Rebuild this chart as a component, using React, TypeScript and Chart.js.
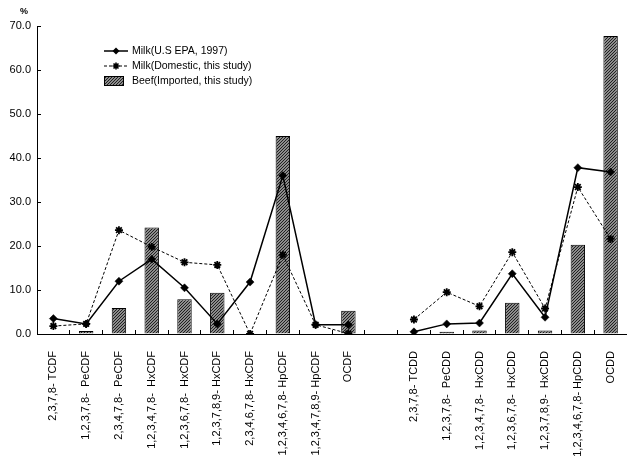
import React, { useEffect, useRef } from 'react';
import { Chart, registerables } from 'chart.js';

Chart.register(...registerables);

const categories: string[] = [
  '2,3,7,8- TCDF',
  '1,2,3,7,8-  PeCDF',
  '2,3,4,7,8-  PeCDF',
  '1,2,3,4,7,8-  HxCDF',
  '1,2,3,6,7,8-  HxCDF',
  '1,2,3,7,8,9- HxCDF',
  '2,3,4,6,7,8- HxCDF',
  '1,2,3,4,6,7,8- HpCDF',
  '1,2,3,4,7,8,9- HpCDF',
  'OCDF',
  '',
  '2,3,7,8- TCDD',
  '1,2,3,7,8-  PeCDD',
  '1,2,3,4,7,8-  HxCDD',
  '1,2,3,6,7,8-  HxCDD',
  '1,2,3,7,8,9-  HxCDD',
  '1,2,3,4,6,7,8- HpCDD',
  'OCDD',
];

const milkEpa: (number | null)[] = [3.5, 2.3, 12.0, 17.0, 10.5, 2.3, 11.8, 36.0, 2.1, 2.1, null, 0.5, 2.3, 2.5, 13.7, 3.8, 37.8, 36.8];
const milkDomestic: (number | null)[] = [1.8, 2.3, 23.6, 19.8, 16.3, 15.7, 0.0, 18.0, 2.1, 0.1, null, 3.3, 9.5, 6.3, 18.6, 5.8, 33.4, 21.6];
const beefImported: (number | null)[] = [0, 0.7, 5.9, 24.2, 7.9, 9.4, 0, 45.0, 0, 5.3, null, 0, 0.5, 0.8, 7.1, 0.8, 20.3, 67.7];

const seriesNames = ['Milk(U.S EPA, 1997)', 'Milk(Domestic, this study)', 'Beef(Imported, this study)'];
const yMin = 0;
const yMax = 70;
const yStep = 10;
const yUnit = '%';

const FONT = "'Liberation Sans', Arial, sans-serif";

function makeHatch(): CanvasPattern | string {
  const c = document.createElement('canvas');
  c.width = 3;
  c.height = 3;
  const p = c.getContext('2d');
  if (!p) return '#666';
  p.fillStyle = '#8c8c8c';
  p.fillRect(0, 0, 3, 3);
  p.fillStyle = '#202020';
  p.fillRect(2, 0, 1, 1);
  p.fillRect(1, 1, 1, 1);
  p.fillRect(0, 2, 1, 1);
  const pat = p.createPattern(c, 'repeat');
  return pat || '#666';
}

function drawStar(ctx: CanvasRenderingContext2D, x: number, y: number, r: number) {
  ctx.beginPath();
  ctx.moveTo(x - r, y);
  ctx.lineTo(x + r, y);
  ctx.moveTo(x, y - r);
  ctx.lineTo(x, y + r);
  const d = r * 0.7071;
  ctx.moveTo(x - d, y - d);
  ctx.lineTo(x + d, y + d);
  ctx.moveTo(x - d, y + d);
  ctx.lineTo(x + d, y - d);
  ctx.stroke();
}

const legendPlugin = {
  id: 'boxLegend',
  afterDraw(chart: any, _args: any, opts: any) {
    const ctx: CanvasRenderingContext2D = chart.ctx;
    const x0 = opts.x;
    const rows: number[] = opts.rows;
    const w = opts.sampleWidth;
    ctx.save();
    ctx.font = `10.5px ${FONT}`;
    ctx.textBaseline = 'middle';
    ctx.textAlign = 'left';
    chart.data.datasets.forEach((ds: any, i: number) => {
      const y = rows[i];
      if (ds.type === 'line') {
        ctx.strokeStyle = '#000';
        ctx.lineWidth = ds.borderWidth;
        ctx.setLineDash(ds.borderDash || []);
        ctx.beginPath();
        ctx.moveTo(x0, y);
        ctx.lineTo(x0 + w, y);
        ctx.stroke();
        ctx.setLineDash([]);
        const cx = x0 + w / 2;
        if (ds.pointStyle === 'star') {
          ctx.lineWidth = 1.6;
          drawStar(ctx, cx, y, 3.5);
        } else {
          ctx.fillStyle = '#000';
          ctx.beginPath();
          ctx.moveTo(cx, y - 3.5);
          ctx.lineTo(cx + 3.5, y);
          ctx.lineTo(cx, y + 3.5);
          ctx.lineTo(cx - 3.5, y);
          ctx.closePath();
          ctx.fill();
        }
      } else {
        ctx.fillStyle = ds.backgroundColor;
        ctx.fillRect(x0, y - 5, w - 4, 10);
        ctx.strokeStyle = '#000';
        ctx.lineWidth = 1;
        ctx.strokeRect(x0 + 0.5, y - 4.5, w - 5, 9);
      }
      ctx.fillStyle = '#000';
      ctx.fillText(ds.label, x0 + w + 4, y + 0.5);
    });
    ctx.restore();
  },
};

const unitPlugin = {
  id: 'unitLabel',
  afterDraw(chart: any, _args: any, opts: any) {
    const ctx: CanvasRenderingContext2D = chart.ctx;
    const area = chart.chartArea;
    ctx.save();
    ctx.font = `bold 9px ${FONT}`;
    ctx.fillStyle = '#000';
    ctx.textAlign = 'center';
    ctx.textBaseline = 'middle';
    ctx.fillText(opts.text, area.left - 13, area.top - 14);
    ctx.restore();
  },
};

export default function App() {
  const canvasRef = useRef<HTMLCanvasElement | null>(null);

  useEffect(() => {
    const canvas = canvasRef.current;
    if (!canvas) return;
    const hatch = makeHatch();
    const chart = new Chart(canvas, {
      type: 'bar',
      data: {
        labels: categories,
        datasets: [
          {
            type: 'line',
            label: seriesNames[0],
            data: milkEpa,
            borderColor: '#000',
            backgroundColor: '#000',
            borderWidth: 1.5,
            pointStyle: 'rectRot',
            pointRadius: 4,
            pointBackgroundColor: '#000',
            pointBorderColor: '#000',
            pointBorderWidth: 0.5,
            tension: 0,
            spanGaps: false,
            order: 0,
          } as any,
          {
            type: 'line',
            label: seriesNames[1],
            data: milkDomestic,
            borderColor: '#000',
            backgroundColor: '#000',
            borderWidth: 1,
            borderDash: [3, 2],
            pointStyle: 'star',
            pointRadius: 4,
            pointBorderColor: '#000',
            pointBorderWidth: 1.8,
            tension: 0,
            spanGaps: false,
            order: 1,
          } as any,
          {
            type: 'bar',
            label: seriesNames[2],
            data: beefImported,
            backgroundColor: hatch,
            borderColor: '#000',
            borderWidth: 1,
            barPercentage: 0.44,
            categoryPercentage: 1,
            order: 2,
          } as any,
        ],
      },
      options: {
        responsive: true,
        maintainAspectRatio: false,
        animation: false,
        layout: { autoPadding: false, padding: { top: 26, right: 0, left: 0, bottom: 0 } },
        plugins: {
          legend: { display: false },
          tooltip: { enabled: false },
          boxLegend: { x: 104, rows: [51, 66, 81], sampleWidth: 24 },
          unitLabel: { text: yUnit },
        } as any,
        scales: {
          x: {
            type: 'category',
            offset: true,
            grid: { display: true, drawOnChartArea: false, drawTicks: true, tickLength: -4, color: '#000', offset: true },
            border: { display: true, color: '#000', width: 1 },
            ticks: {
              autoSkip: false,
              maxRotation: 90,
              minRotation: 90,
              padding: 21,
              color: '#000',
              font: { family: FONT, size: 11 },
            },
            afterFit: (scale: any) => {
              scale.height = 124;
              scale.paddingLeft = 0;
              scale.paddingRight = 0;
            },
          },
          y: {
            min: yMin,
            max: yMax,
            grid: { display: true, drawOnChartArea: false, drawTicks: true, tickLength: -4, color: '#000' },
            border: { display: true, color: '#000', width: 1 },
            ticks: {
              stepSize: yStep,
              padding: 10,
              color: '#000',
              font: { family: FONT, size: 11 },
              callback: (v: any) => Number(v).toFixed(1),
            },
            afterFit: (scale: any) => {
              scale.width = 37;
            },
          },
        },
      },
      plugins: [legendPlugin, unitPlugin],
    });
    return () => chart.destroy();
  }, []);

  return (
    <div style={{ position: 'absolute', left: 0, top: 0, width: 627, height: 458, background: '#fff' }}>
      <canvas ref={canvasRef} />
    </div>
  );
}
